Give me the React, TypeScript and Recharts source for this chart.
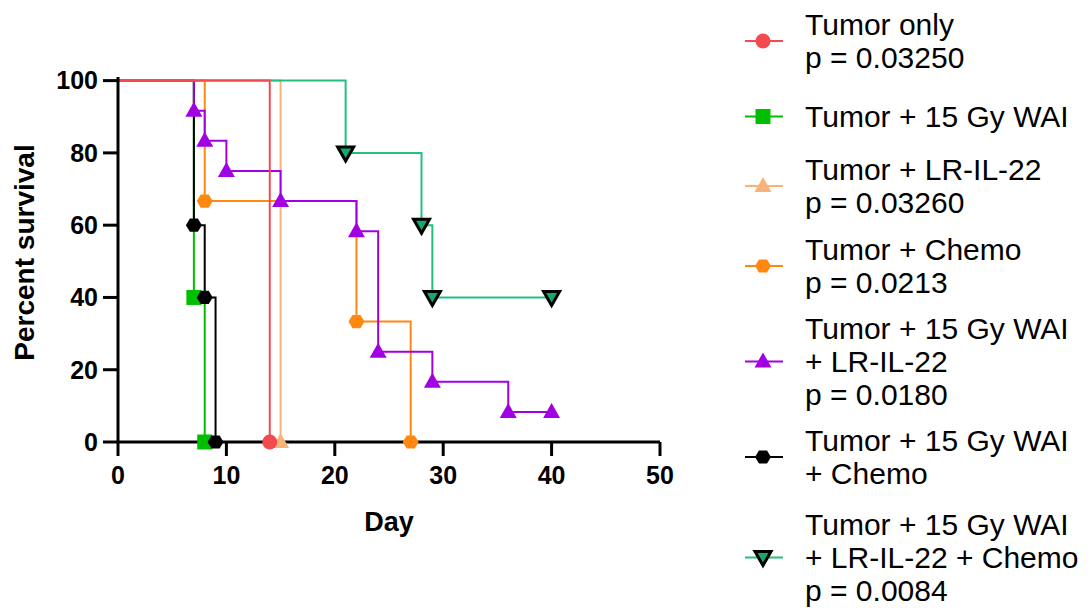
import React from 'react';
import { LineChart, Line, XAxis, YAxis } from 'recharts';

// ---- Data (Kaplan-Meier steps) ----
const tumorOnlyDays = [0, 14];
const tumorOnlySurvival = [100, 0];

const wai15Days = [0, 7, 8];
const wai15Survival = [100, 40, 0];

const lrIl22Days = [0, 15];
const lrIl22Survival = [100, 0];

const chemoDays = [0, 8, 22, 27];
const chemoSurvival = [100, 66.67, 33.33, 0];

const waiLrDays = [0, 7, 8, 10, 15, 22, 24, 29, 36, 40];
const waiLrSurvival = [100, 91.67, 83.33, 75, 66.67, 58.33, 25, 16.67, 8.33, 8.33];

const waiChemoDays = [0, 7, 8, 9];
const waiChemoSurvival = [100, 60, 40, 0];

const waiLrChemoDays = [0, 21, 28, 29, 40];
const waiLrChemoSurvival = [100, 80, 60, 40, 40];

const xTicks = [0, 10, 20, 30, 40, 50];
const yTicks = [0, 20, 40, 60, 80, 100];

const legendLabels = [
  ['Tumor only', 'p = 0.03250'],
  ['Tumor + 15 Gy WAI'],
  ['Tumor + LR-IL-22', 'p = 0.03260'],
  ['Tumor + Chemo', 'p = 0.0213'],
  ['Tumor + 15 Gy WAI', '+ LR-IL-22', 'p = 0.0180'],
  ['Tumor + 15 Gy WAI', '+ Chemo'],
  ['Tumor + 15 Gy WAI', '+ LR-IL-22 + Chemo', 'p = 0.0084'],
];

// ---- Styling ----
type Shape = 'circle' | 'square' | 'triangle' | 'hexagon' | 'invTriangle';
interface SeriesDef {
  id: string;
  days: number[];
  survival: number[];
  color: string;
  fill: string;
  shape: Shape;
}

const series: SeriesDef[] = [
  { id: 'tumorOnly', days: tumorOnlyDays, survival: tumorOnlySurvival, color: '#F24A4E', fill: '#F24A4E', shape: 'circle' },
  { id: 'wai15', days: wai15Days, survival: wai15Survival, color: '#00BE00', fill: '#00BE00', shape: 'square' },
  { id: 'lrIl22', days: lrIl22Days, survival: lrIl22Survival, color: '#F6B47A', fill: '#F6B47A', shape: 'triangle' },
  { id: 'chemo', days: chemoDays, survival: chemoSurvival, color: '#FF8810', fill: '#FF8810', shape: 'hexagon' },
  { id: 'waiLr', days: waiLrDays, survival: waiLrSurvival, color: '#A200E4', fill: '#A200E4', shape: 'triangle' },
  { id: 'waiChemo', days: waiChemoDays, survival: waiChemoSurvival, color: '#000000', fill: '#000000', shape: 'hexagon' },
  { id: 'waiLrChemo', days: waiLrChemoDays, survival: waiLrChemoSurvival, color: '#22C07E', fill: '#16A86C', shape: 'invTriangle' },
];

// bottom-to-top draw order
const drawOrder = ['wai15', 'waiChemo', 'lrIl22', 'chemo', 'waiLr', 'waiLrChemo', 'tumorOnly'];
const legendCenters = [41, 116, 186, 266, 361, 457, 557];

const FONT = '"Liberation Sans", Arial, Helvetica, sans-serif';

function Marker({ shape, cx, cy, fill }: { shape: Shape; cx: number; cy: number; fill: string }) {
  switch (shape) {
    case 'circle':
      return <circle cx={cx} cy={cy} r={7.5} fill={fill} />;
    case 'square':
      return <rect x={cx - 7.5} y={cy - 7.5} width={15} height={15} fill={fill} />;
    case 'triangle':
      return (
        <polygon
          points={`${cx},${cy - 9} ${cx + 8.5},${cy + 6} ${cx - 8.5},${cy + 6}`}
          fill={fill}
        />
      );
    case 'hexagon': {
      const r = 8;
      const pts = [0, 60, 120, 180, 240, 300]
        .map((a) => {
          const rad = (a * Math.PI) / 180;
          return `${cx + r * Math.cos(rad)},${cy + r * 0.95 * Math.sin(rad)}`;
        })
        .join(' ');
      return <polygon points={pts} fill={fill} />;
    }
    case 'invTriangle':
      return (
        <polygon
          points={`${cx - 8},${cy - 6} ${cx + 8},${cy - 6} ${cx},${cy + 8}`}
          fill={fill}
          stroke="#000"
          strokeWidth={3}
          strokeLinejoin="miter"
        />
      );
  }
  return null;
}

const YLabel = (props: any) => {
  const vb = props.viewBox || { x: 0, y: 77, width: 118, height: 365 };
  const x = vb.x + 24;
  const y = vb.y + vb.height / 2 - 7;
  return (
    <text
      x={x}
      y={y}
      dy="0.355em"
      transform={`rotate(-90, ${x}, ${y})`}
      textAnchor="middle"
      fontFamily={FONT}
      fontSize={28}
      fontWeight={700}
      fill="#000"
    >
      Percent survival
    </text>
  );
};

const XLabel = (props: any) => {
  const vb = props.viewBox || { x: 118, y: 442, width: 542, height: 90 };
  const x = vb.x + vb.width / 2;
  const y = vb.y + 89;
  return (
    <text x={x} y={y} textAnchor="middle" fontFamily={FONT} fontSize={27} fontWeight={700} fill="#000">
      Day
    </text>
  );
};

export default function App() {
  const tickStyle = { fontSize: 25, fontWeight: 700, fill: '#000', fontFamily: FONT };
  const ordered = drawOrder.map((id) => series.find((s) => s.id === id)!);

  return (
    <div
      style={{
        position: 'absolute',
        left: 0,
        top: 0,
        width: 1088,
        height: 608,
        background: '#fff',
        fontFamily: FONT,
      }}
    >
      <LineChart width={700} height={608} margin={{ top: 77, right: 40, bottom: 76, left: 0 }}>
        <XAxis
          type="number"
          dataKey="day"
          domain={[0, 50]}
          ticks={xTicks}
          interval={0}
          allowDuplicatedCategory={false}
          height={90}
          axisLine={{ stroke: '#000', strokeWidth: 3 }}
          tickLine={{ stroke: '#000', strokeWidth: 3 }}
          tickSize={14}
          tickMargin={10}
          tick={tickStyle}
          label={<XLabel />}
        />
        <YAxis
          type="number"
          dataKey="pct"
          domain={[0, 101]}
          ticks={yTicks}
          interval={0}
          width={118}
          axisLine={{ stroke: '#000', strokeWidth: 3 }}
          tickLine={{ stroke: '#000', strokeWidth: 3 }}
          tickSize={15}
          tickMargin={5}
          tick={tickStyle}
          label={<YLabel />}
        />
        {ordered.map((s) => {
          const data = s.days.map((d, i) => ({ day: d, pct: s.survival[i] }));
          return (
            <Line
              key={s.id}
              data={data}
              dataKey="pct"
              type="stepAfter"
              stroke={s.color}
              strokeWidth={2}
              isAnimationActive={false}
              activeDot={false}
              dot={(p: any) =>
                p.index === 0 ? (
                  <g key={`${s.id}-${p.index}`} />
                ) : (
                  <Marker key={`${s.id}-${p.index}`} shape={s.shape} cx={p.cx} cy={p.cy} fill={s.fill} />
                )
              }
            />
          );
        })}
      </LineChart>

      {series.map((s, i) => (
        <div
          key={s.id}
          style={{
            position: 'absolute',
            left: 740,
            top: legendCenters[i],
            transform: 'translateY(-50%)',
            display: 'flex',
            alignItems: 'center',
          }}
        >
          <svg width={46} height={24} style={{ display: 'block' }}>
            <line x1={5} y1={12} x2={43} y2={12} stroke={s.color} strokeWidth={2} />
            <Marker shape={s.shape} cx={23} cy={12} fill={s.fill} />
          </svg>
          <div
            style={{
              marginLeft: 19,
              fontSize: 30,
              lineHeight: '33px',
              color: '#000',
              whiteSpace: 'nowrap',
            }}
          >
            {legendLabels[i].map((t, j) => (
              <div key={j}>{t}</div>
            ))}
          </div>
        </div>
      ))}
    </div>
  );
}
